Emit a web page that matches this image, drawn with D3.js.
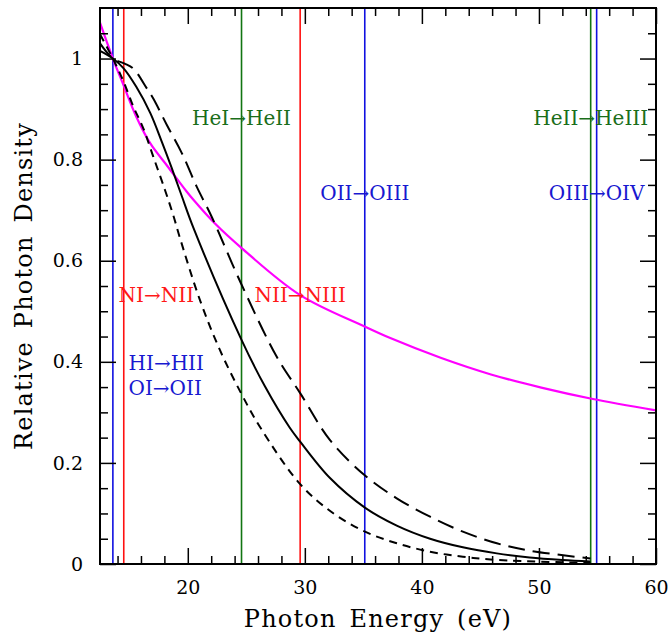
<!DOCTYPE html>
<html>
<head>
<meta charset="utf-8">
<script src="https://cdn.jsdelivr.net/npm/d3@7"></script>
<style>
  html, body { margin: 0; padding: 0; background: #fff; }
  svg { display: block; }
  text { font-family: "DejaVu Serif", "Liberation Serif", serif; }
</style>
</head>
<body>
<svg id="chart" width="672" height="638"></svg>
<script>
// ---------------- data ----------------
const xTickValues = [20, 30, 40, 50, 60];
const xTickLabels = ["20", "30", "40", "50", "60"];
const yTickValues = [0, 0.2, 0.4, 0.6, 0.8, 1.0];
const yTickLabels = ["0", "0.2", "0.4", "0.6", "0.8", "1"];

// magenta curve
const magentaE = [12.5, 13.6, 14.5, 15.6, 16.8, 18.3, 19.9, 20.5, 22.3, 24.6, 29.6, 35.1, 37.3, 41.6, 45.9, 50.2, 54.5, 60];
const magentaV = [1.071, 1.0, 0.948, 0.885, 0.832, 0.786, 0.737, 0.72, 0.674, 0.625, 0.532, 0.47, 0.447, 0.408, 0.375, 0.349, 0.327, 0.304];

// solid black curve
const solidE = [12.5, 13.6, 14.5, 15.6, 16.8, 17.8, 18.6, 19.5, 20.5, 24.6, 26.6, 28.7, 29.6, 32.15, 35.1, 37.85, 40.7, 43.5, 46.4, 49.2, 52.0, 54.4];
const solidV = [1.015, 1.0, 0.981, 0.944, 0.892, 0.834, 0.785, 0.727, 0.664, 0.443, 0.351, 0.270, 0.242, 0.170, 0.112, 0.076, 0.050, 0.033, 0.021, 0.013, 0.008, 0.005];

// long-dashed curve
const longE = [12.5, 13.6, 14.6, 15.35, 16.5, 17.05, 18.2, 19.5, 20.76, 22.04, 24.55, 27.6, 29.6, 32.15, 35.14, 37.85, 40.7, 43.5, 46.4, 49.2, 54.4];
const longV = [1.03, 1.0, 0.99, 0.98, 0.941, 0.921, 0.869, 0.8125, 0.7465, 0.687, 0.555, 0.41, 0.338, 0.245, 0.175, 0.13, 0.0936, 0.064, 0.041, 0.0264, 0.011];

// short-dashed curve
const shortE = [12.5, 13.6, 14.5, 15.35, 16.2, 17.05, 18.05, 18.76, 19.33, 21.04, 22.75, 24.55, 26.2, 29.6, 32.43, 35.14, 37.85, 40.7, 43.5, 46.4, 54.4];
const shortV = [1.048, 1.0, 0.955, 0.905, 0.862, 0.806, 0.74, 0.69, 0.645, 0.522, 0.423, 0.338, 0.27, 0.158, 0.1003, 0.064, 0.041, 0.0243, 0.0144, 0.008, 0.002];

// ionization edges
const edgeEnergies = [13.6, 14.53, 24.59, 29.6, 35.12, 54.42, 54.93];
const edgeElements = ["H", "N", "He", "N", "O", "He", "O"];

// edge labels
const labelTexts = ["HI→HII", "OI→OII", "NI→NII", "NII→NIII", "HeI→HeII", "OII→OIII", "HeII→HeIII", "OIII→OIV"];
const labelElements = ["H", "O", "N", "N", "He", "O", "He", "O"];
const labelE = [14.94, 14.94, 14.09, 29.6, 24.59, 35.12, 54.42, 54.93];
const labelV = [0.384, 0.334, 0.518, 0.518, 0.8685, 0.72, 0.8685, 0.72];
const labelAnchor = ["start", "start", "start", "middle", "middle", "middle", "middle", "middle"];

// ---------------- drawing ----------------
const W = 672, H = 638;
const m = { left: 100, right: 16, top: 8, bottom: 74 };
const x = d3.scaleLinear().domain([12.5, 60]).range([m.left, W - m.right]);
const y = d3.scaleLinear().domain([0, 1.1]).range([H - m.bottom, m.top]);

const colorOf = { H: "#1010e0", O: "#1010e0", N: "#ff1010", He: "#127512" };
const textColorOf = { H: "#1818d0", O: "#1818d0", N: "#ff1818", He: "#1a6e1a" };

const svg = d3.select("#chart");

// vertical edge lines
svg.append("g").selectAll("line").data(edgeEnergies).join("line")
  .attr("x1", d => x(d)).attr("x2", d => x(d))
  .attr("y1", y(1.1)).attr("y2", y(0))
  .attr("stroke", (d, i) => colorOf[edgeElements[i]])
  .attr("stroke-width", 1.6);

// curves
const makeLine = (E, V) => d3.line()
  .x((d, i) => x(E[i])).y((d, i) => y(V[i]))
  .curve(d3.curveCatmullRom.alpha(0.5))(E);

svg.append("path").attr("d", makeLine(magentaE, magentaV))
  .attr("fill", "none").attr("stroke", "#ff00ff").attr("stroke-width", 2.2);
svg.append("path").attr("d", makeLine(solidE, solidV))
  .attr("fill", "none").attr("stroke", "#000").attr("stroke-width", 2);
svg.append("path").attr("d", makeLine(longE, longV))
  .attr("fill", "none").attr("stroke", "#000").attr("stroke-width", 2)
  .attr("stroke-dasharray", "17,8");
svg.append("path").attr("d", makeLine(shortE, shortV))
  .attr("fill", "none").attr("stroke", "#000").attr("stroke-width", 2)
  .attr("stroke-dasharray", "8,6");

// edge labels
svg.append("g").selectAll("text").data(labelTexts).join("text")
  .attr("x", (d, i) => x(labelE[i]))
  .attr("y", (d, i) => y(labelV[i]))
  .attr("text-anchor", (d, i) => labelAnchor[i])
  .attr("fill", (d, i) => textColorOf[labelElements[i]])
  .attr("font-size", 20)
  .text(d => d);

// axes
const minorX = d3.range(14, 60, 2).filter(v => v % 10 !== 0);
const minorY = d3.range(1, 22).map(k => k * 0.05).filter((v, k) => (k + 1) % 4 !== 0);

function styleAxis(g) {
  g.select(".domain").remove();
  g.selectAll(".tick line").attr("stroke", "#000").attr("stroke-width", 1.5);
  g.selectAll("text").attr("font-family", "DejaVu Serif").attr("font-size", 19).attr("fill", "#000");
}

// bottom
svg.append("g").attr("transform", `translate(0,${y(0)})`)
  .call(d3.axisBottom(x).tickValues(xTickValues).tickSize(-16).tickPadding(17)
    .tickFormat((d, i) => xTickLabels[i]))
  .call(styleAxis);
svg.append("g").attr("transform", `translate(0,${y(0)})`)
  .call(d3.axisBottom(x).tickValues(minorX).tickSize(-8).tickFormat(""))
  .call(styleAxis);
// top
svg.append("g").attr("transform", `translate(0,${y(1.1)})`)
  .call(d3.axisTop(x).tickValues(xTickValues).tickSize(-16).tickFormat(""))
  .call(styleAxis);
svg.append("g").attr("transform", `translate(0,${y(1.1)})`)
  .call(d3.axisTop(x).tickValues(minorX).tickSize(-8).tickFormat(""))
  .call(styleAxis);
// left
svg.append("g").attr("transform", `translate(${x(12.5)},0)`)
  .call(d3.axisLeft(y).tickValues(yTickValues).tickSize(-16).tickPadding(17)
    .tickFormat((d, i) => yTickLabels[i]))
  .call(styleAxis);
svg.append("g").attr("transform", `translate(${x(12.5)},0)`)
  .call(d3.axisLeft(y).tickValues(minorY).tickSize(-8).tickFormat(""))
  .call(styleAxis);
// right
svg.append("g").attr("transform", `translate(${x(60)},0)`)
  .call(d3.axisRight(y).tickValues(yTickValues).tickSize(-16).tickFormat(""))
  .call(styleAxis);
svg.append("g").attr("transform", `translate(${x(60)},0)`)
  .call(d3.axisRight(y).tickValues(minorY).tickSize(-8).tickFormat(""))
  .call(styleAxis);

// frame
svg.append("rect")
  .attr("x", x(12.5)).attr("y", y(1.1))
  .attr("width", x(60) - x(12.5)).attr("height", y(0) - y(1.1))
  .attr("fill", "none").attr("stroke", "#000").attr("stroke-width", 2);

// axis titles
svg.append("text")
  .attr("x", (x(12.5) + x(60)) / 2).attr("y", 627)
  .attr("text-anchor", "middle").attr("font-size", 24).attr("fill", "#000")
  .attr("letter-spacing", 1.2).attr("word-spacing", 4)
  .text("Photon Energy (eV)");
svg.append("text")
  .attr("transform", `translate(32,${(y(0) + y(1.1)) / 2}) rotate(-90)`)
  .attr("text-anchor", "middle").attr("font-size", 24).attr("fill", "#000")
  .attr("letter-spacing", 1.2).attr("word-spacing", 4)
  .text("Relative Photon Density");
</script>
</body>
</html>
